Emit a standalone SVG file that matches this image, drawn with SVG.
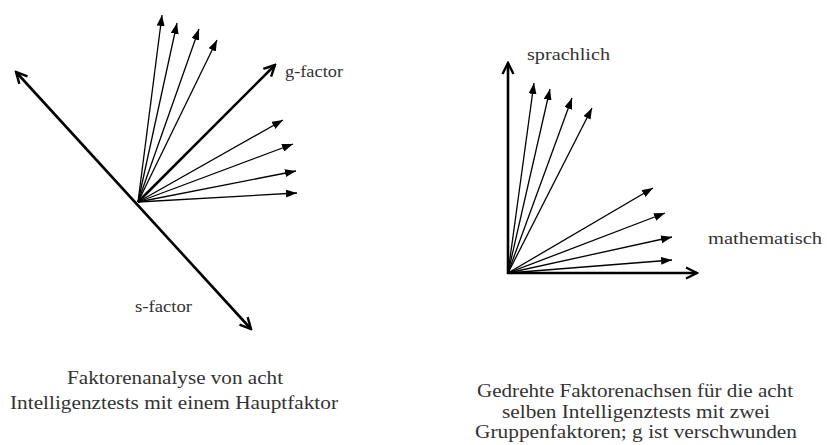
<svg xmlns="http://www.w3.org/2000/svg" width="827" height="445" viewBox="0 0 827 445">
<style>
  .thin { stroke: #000; stroke-width: 1.3; fill: none; marker-end: url(#tri); }
  .axis { stroke: #000; stroke-width: 2.6; fill: none; }
  .lbl { font-family: "Liberation Serif", "Times New Roman", serif; font-size: 16px; fill: #333; }
  .cap { font-family: "Liberation Serif", "Times New Roman", serif; font-size: 18px; fill: #333; text-anchor: middle; }
</style>
<defs>
  <marker id="tri" viewBox="0 0 11 8" markerWidth="11" markerHeight="8" refX="11" refY="4" orient="auto" markerUnits="userSpaceOnUse">
    <path d="M0,0 L11,4 L0,8 z" fill="#000"/>
  </marker>
  <marker id="chev" viewBox="0 0 14 14" markerWidth="14" markerHeight="14" refX="12" refY="7" orient="auto-start-reverse" markerUnits="userSpaceOnUse">
    <path d="M1,1.5 L12,7 L1,12.5" fill="none" stroke="#000" stroke-width="2.4"/>
  </marker>
</defs>
<rect width="827" height="445" fill="#fff"/>
<g id="connectors">
  <g id="left-vectors">
    <line class="thin" x1="138" y1="202" x2="162" y2="15"/>
    <line class="thin" x1="138" y1="202" x2="177" y2="23"/>
    <line class="thin" x1="138" y1="202" x2="199" y2="29"/>
    <line class="thin" x1="138" y1="202" x2="217" y2="40"/>
    <line class="thin" x1="138" y1="202" x2="283" y2="120"/>
    <line class="thin" x1="138" y1="202" x2="293" y2="144"/>
    <line class="thin" x1="138" y1="202" x2="296" y2="171"/>
    <line class="thin" x1="138" y1="202" x2="297" y2="193"/>
    <line class="axis" x1="138" y1="202" x2="275" y2="65" marker-end="url(#chev)"/>
    <line class="axis" x1="16" y1="72" x2="251" y2="329" marker-start="url(#chev)" marker-end="url(#chev)"/>
  </g>
  <g id="right-vectors">
    <line class="thin" x1="508" y1="273" x2="534" y2="83"/>
    <line class="thin" x1="508" y1="273" x2="550" y2="89"/>
    <line class="thin" x1="508" y1="273" x2="572" y2="98"/>
    <line class="thin" x1="508" y1="273" x2="592" y2="108"/>
    <line class="thin" x1="508" y1="273" x2="653" y2="188"/>
    <line class="thin" x1="508" y1="273" x2="665" y2="213"/>
    <line class="thin" x1="508" y1="273" x2="672" y2="237"/>
    <line class="thin" x1="508" y1="273" x2="672" y2="260"/>
    <line class="axis" x1="508" y1="274" x2="508" y2="63" marker-end="url(#chev)"/>
    <line class="axis" x1="507" y1="273" x2="697" y2="273" marker-end="url(#chev)"/>
  </g>
</g>
<g id="g-factor-label"><text class="lbl" x="285" y="77" textLength="58" lengthAdjust="spacingAndGlyphs">g-factor</text></g>
<g id="s-factor-label"><text class="lbl" x="135" y="312" textLength="57" lengthAdjust="spacingAndGlyphs">s-factor</text></g>
<g id="sprachlich-label"><text class="lbl" x="527" y="60" textLength="83" lengthAdjust="spacingAndGlyphs">sprachlich</text></g>
<g id="mathematisch-label"><text class="lbl" x="708" y="244" textLength="114" lengthAdjust="spacingAndGlyphs">mathematisch</text></g>
<g id="left-caption">
  <text class="cap" x="175" y="384" textLength="216" lengthAdjust="spacingAndGlyphs">Faktorenanalyse von acht</text>
  <text class="cap" x="174" y="409" textLength="328" lengthAdjust="spacingAndGlyphs">Intelligenztests mit einem Hauptfaktor</text>
</g>
<g id="right-caption">
  <text class="cap" x="635" y="397" textLength="316" lengthAdjust="spacingAndGlyphs">Gedrehte Faktorenachsen für die acht</text>
  <text class="cap" x="636" y="417.5" textLength="268" lengthAdjust="spacingAndGlyphs">selben Intelligenztests mit zwei</text>
  <text class="cap" x="636" y="438" textLength="322" lengthAdjust="spacingAndGlyphs">Gruppenfaktoren; g ist verschwunden</text>
</g>
</svg>
